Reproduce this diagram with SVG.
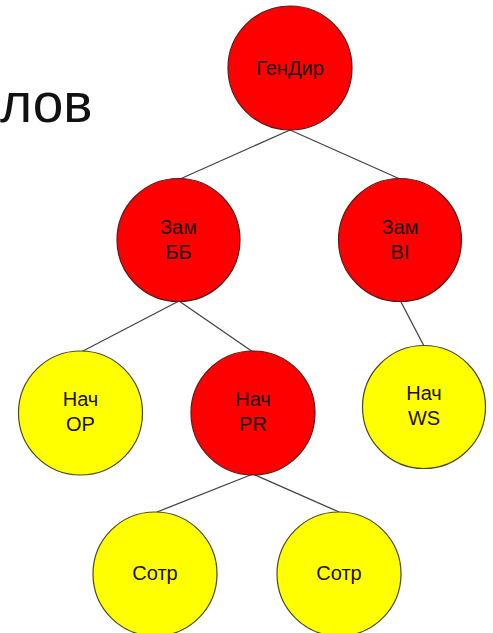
<svg xmlns="http://www.w3.org/2000/svg" width="493" height="633" viewBox="0 0 493 633">
  <style>
    .red { fill: #ff0000; stroke: #5a1a1a; stroke-width: 1.2; }
    .yel { fill: #ffff00; stroke: #4a4a20; stroke-width: 1.2; }
    .lbl { font-family: "Liberation Sans", Arial, sans-serif; font-size: 20px; fill: #1c1010; text-anchor: middle; }
    .edge { stroke: #444; stroke-width: 1.3; fill: none; }
  </style>
  <rect width="493" height="633" fill="#ffffff"/>

  <!-- slide title fragment -->
  <text x="0" y="122" font-family="Liberation Sans, Arial, sans-serif" font-size="55" fill="#111">лов</text>

  <!-- tree edges -->
  <g id="connectors">
    <line class="edge" x1="290" y1="130" x2="180" y2="179"/>
    <line class="edge" x1="290" y1="130" x2="400" y2="179"/>
    <line class="edge" x1="179" y1="301" x2="81" y2="352"/>
    <line class="edge" x1="179" y1="301" x2="253" y2="352"/>
    <line class="edge" x1="401" y1="302" x2="424" y2="346"/>
    <line class="edge" x1="253" y1="474" x2="157" y2="512"/>
    <line class="edge" x1="253" y1="474" x2="339" y2="512"/>
  </g>

  <g id="gendir">
    <circle class="red" cx="290" cy="68" r="62"/>
    <text class="lbl" x="290" y="75">ГенДир</text>
  </g>
  <g id="zam-bb">
    <circle class="red" cx="178.5" cy="240" r="61.5"/>
    <text class="lbl" x="178.5" y="234">Зам</text>
    <text class="lbl" x="178.5" y="259">ББ</text>
  </g>
  <g id="zam-bi">
    <circle class="red" cx="400" cy="240" r="61.5"/>
    <text class="lbl" x="400" y="234">Зам</text>
    <text class="lbl" x="400" y="259">BI</text>
  </g>
  <g id="nach-op">
    <circle class="yel" cx="80.5" cy="413" r="62"/>
    <text class="lbl" x="80.5" y="406">Нач</text>
    <text class="lbl" x="80.5" y="431">OP</text>
  </g>
  <g id="nach-pr">
    <circle class="red" cx="253" cy="413" r="62"/>
    <text class="lbl" x="253" y="406">Нач</text>
    <text class="lbl" x="253" y="431">PR</text>
  </g>
  <g id="nach-ws">
    <circle class="yel" cx="424" cy="407" r="61.5"/>
    <text class="lbl" x="424" y="400">Нач</text>
    <text class="lbl" x="424" y="425">WS</text>
  </g>
  <g id="sotr-1">
    <circle class="yel" cx="155" cy="574" r="62"/>
    <text class="lbl" x="155" y="580">Сотр</text>
  </g>
  <g id="sotr-2">
    <circle class="yel" cx="339" cy="574" r="62"/>
    <text class="lbl" x="339" y="580">Сотр</text>
  </g>
</svg>
